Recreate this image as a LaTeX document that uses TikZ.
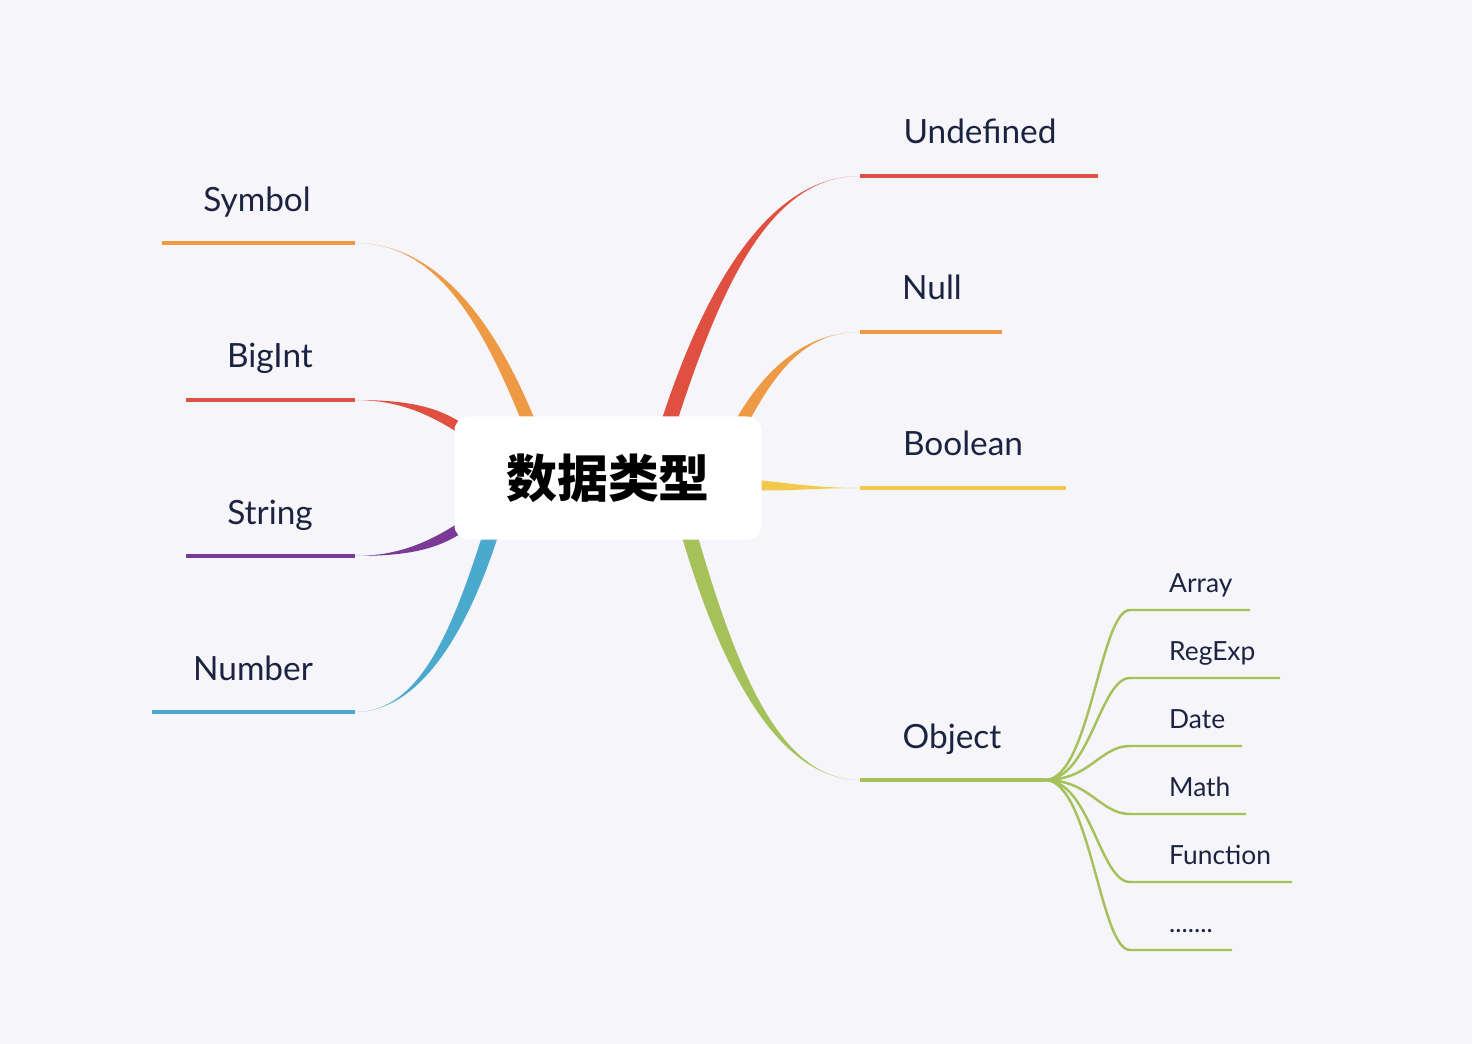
\documentclass[tikz,border=0pt]{standalone}
\usepackage{fontspec}
\setmainfont{Lato}
\newfontfamily\cjk{Noto Sans CJK SC}
\definecolor{bg}{HTML}{F5F5FA}
\definecolor{cred}{HTML}{E05040}
\definecolor{corange}{HTML}{EE9A45}
\definecolor{cpurple}{HTML}{7B3A96}
\definecolor{cblue}{HTML}{4BA9CE}
\definecolor{cyellow}{HTML}{F2C94C}
\definecolor{cgreen}{HTML}{A5C25A}
\definecolor{ink}{HTML}{1B2340}
\newcommand{\mydots}{.......}
\newcommand{\taper}[7]{%
  \pgfmathsetmacro\dx{#4-#2}\pgfmathsetmacro\dy{#5-#3}%
  \fill[#1] ({#2+#6},{#3+#7}) .. controls ({#2+#6+0.25*\dx},{#3+#7+0.6*\dy}) and ({#2+0.55*\dx},{#5}) .. (#4,#5)
    .. controls ({#2+0.55*\dx},{#5}) and ({#2-#6+0.25*\dx},{#3-#7+0.6*\dy}) .. ({#2-#6},{#3-#7}) -- cycle;}
\tikzset{lab/.style={text=ink,font=\fontsize{19}{22}\selectfont,anchor=base},
 sub/.style={text=ink,font=\fontsize{15}{18}\selectfont,anchor=base west},
 hl/.style={line width=1.8pt},
 sl/.style={line width=1.4pt,cgreen}}
\begin{document}
\begin{tikzpicture}[x=0.02cm,y=-0.02cm]
\fill[bg] (0,0) rectangle (1472,1044);
\taper{corange}{530}{425}{355}{243}{7}{0}
\draw[hl,corange] (162,243) -- (355,243);
\node[lab] (symbol) at (257,212) {Symbol};
\taper{cred}{460}{428}{355}{400}{0}{6}
\draw[hl,cred] (186,400) -- (355,400);
\node[lab] (bigint) at (270,368) {BigInt};
\taper{cpurple}{460}{528}{355}{556}{0}{6}
\draw[hl,cpurple] (186,556) -- (355,556);
\node[lab] (string) at (270,524) {String};
\taper{cblue}{492}{530}{355}{712}{8}{0}
\draw[hl,cblue] (152,712) -- (355,712);
\node[lab] (number) at (253,680) {Number};
\taper{cred}{668}{425}{860}{176}{8}{0}
\draw[hl,cred] (860,176) -- (1098,176);
\node[lab] (undef) at (980,144) {Undefined};
\taper{corange}{740}{425}{860}{332}{7}{0}
\draw[hl,corange] (860,332) -- (1002,332);
\node[lab] (null) at (932,300) {Null};
\taper{cyellow}{755}{485}{860}{488}{0}{5}
\draw[hl,cyellow] (860,488) -- (1066,488);
\node[lab] (bool) at (963,456) {Boolean};
\taper{cgreen}{688}{530}{860}{780}{8}{0}
\draw[hl,cgreen] (860,780) -- (1045,780);
\node[lab] (obj) at (952,748) {Object};
\coordinate (o) at (1045,780);
\foreach \y/\xe/\t in {610/1250/Array,678/1280/RegExp,746/1242/Date,814/1246/Math,882/1292/Function,950/1232/\mydots}{
  \draw[sl] (o) .. controls (1090,780) and (1100,\y) .. (1130,\y) -- (\xe,\y);
  \node[sub] at (1163,{\y-18}) {\t};
}
\node[fill=white,rounded corners=8pt,minimum width=307*0.02cm,minimum height=123*0.02cm,font=\cjk\bfseries\fontsize{29}{32}\selectfont] (root) at (608,478) {数据类型};
\end{tikzpicture}
\end{document}
